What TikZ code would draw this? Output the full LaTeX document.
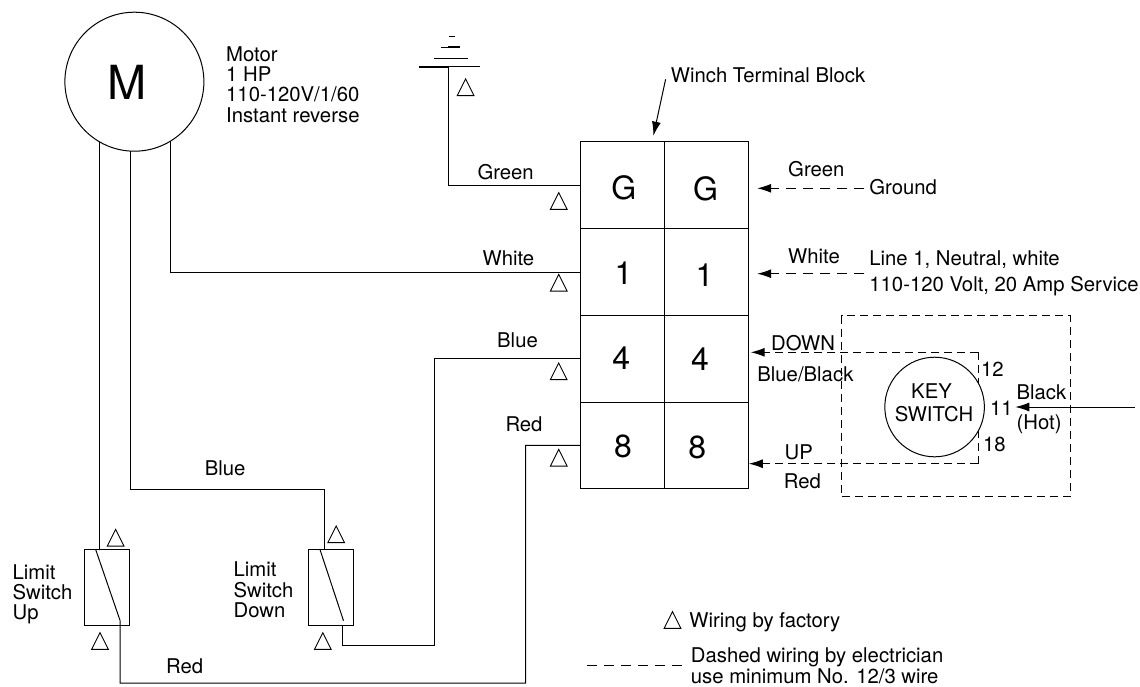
\documentclass[tikz,border=0pt]{standalone}
\usepackage{fontspec}
\setmainfont{TeX Gyre Heros}
\usetikzlibrary{arrows.meta,positioning}
\tikzstyle{wire} = [line width=1pt, line join=miter]
\tikzstyle{elecwire} = [line width=1pt, dash pattern=on 10pt off 7pt]
\tikzstyle{elecbox} = [line width=1pt, dash pattern=on 8pt off 5pt]
\tikzstyle{tip} = [-{Latex[length=14pt,width=9pt]}]
\tikzstyle{cell} = [draw, line width=1pt, rectangle, minimum width=84.2pt, minimum height=86.7pt,
    inner sep=0pt, outer sep=0pt]
\tikzstyle{cellnum} = [inner sep=0pt, font=\fontsize{32}{32}\selectfont]
\tikzstyle{limitsw} = [draw, line width=1pt, rectangle, minimum width=45pt, minimum height=76.4pt,
    inner sep=0pt, outer sep=0pt]
\tikzstyle{lbl} = [anchor=base west, inner sep=0pt, font=\fontsize{20.3}{20.3}\selectfont, align=left]
\tikzset{factri/.pic={\draw[line width=0.9pt] (-8.35,8.35) -- (0,-8.35) -- (8.35,8.35) -- cycle;}}

\begin{document}
\begin{tikzpicture}[x=1pt,y=-1pt]
\useasboundingbox (0,0) rectangle (1140,686);

\node [draw, circle, line width=1pt, minimum size=139pt, inner sep=0pt, outer sep=0pt] (motor) at (134.4,81.7) {};
\node [inner sep=0pt, font=\fontsize{47}{47}\selectfont] (motorM) at (127,82) {M};
\node [lbl] (motorA) at (226,61) {Motor};
\node [lbl] (motorB) at (226,81.7) {1 HP};
\node [lbl] (motorC) at (226,101.7) {110-120V/1/60};
\node [lbl] (motorD) at (226,122) {Instant reverse};

\node [cell] (cellGl) at (622.3,185.3) {};
\node [cell,right=0pt of cellGl] (cellGr) {};
\node [cell,below=0pt of cellGl] (cellAl) {};
\node [cell,right=0pt of cellAl] (cellAr) {};
\node [cell,below=0pt of cellAl] (cellDl) {};
\node [cell,right=0pt of cellDl] (cellDr) {};
\node [cell,below=0pt of cellDl] (cellUl) {};
\node [cell,right=0pt of cellUl] (cellUr) {};

\node [cellnum] (numGl) at (623.8,188) {G};
\node [cellnum] (numGr) at (705.6,189) {G};
\node [cellnum] (numAl) at (623.4,272.7) {1};
\node [cellnum] (numAr) at (704.5,275) {1};
\node [cellnum] (numDl) at (621.3,358) {4};
\node [cellnum] (numDr) at (700,359) {4};
\node [cellnum] (numUl) at (623,446.7) {8};
\node [cellnum] (numUr) at (697.2,447.7) {8};

\node [limitsw] (swUp) at (106.7,587.5) {};
\node [limitsw] (swDown) at (330.8,587.5) {};
\draw [wire] (95.6,549.3) coordinate (upA) -- (120,620.3) coordinate (upB);
\draw [wire] (319.9,549.3) coordinate (downA) -- (343.5,620.7) coordinate (downB);
\node [lbl] (upTextA) at (12.4,579.7) {Limit};
\node [lbl] (upTextB) at (12.4,599.7) {Switch};
\node [lbl] (upTextC) at (12.4,619.7) {Up};
\node [lbl] (downTextA) at (233.4,576.3) {Limit};
\node [lbl] (downTextB) at (233.4,597) {Switch};
\node [lbl] (downTextC) at (233.4,617) {Down};

\coordinate (gndTop) at (448.6,66.7);
\draw [line width=2pt] (419,66.7) -- (gndTop);
\draw [wire] (gndTop) -- (479.8,66.7);
\draw [wire] (434,58) -- (467.5,58);
\draw [wire] (440.6,47) -- (460.2,47);
\draw [line width=2pt] (448,47) -- (460.2,47);
\draw [wire] (448.6,36.7) -- (455,36.7);

\draw [wire] (gndTop) |- (cellGl.west);
\draw [wire] (motor.301) |- (cellAl.west);
\draw [wire] (motor.240.4) -- (motor.240.4 |- swUp.north);
\draw [wire] (motor.267.4) |- (324.6,489) coordinate (blueBend) -- (blueBend |- swDown.north);
\draw [wire] ([xshift=11.2pt]swDown.south) |- (434.8,645.7) |- (cellDl.west);
\draw [wire] (upB) -- (120,683) -| (525.6,445.3) -- (cellUl.west);

\node [lbl] (greenL) at (477.3,179) {Green};
\node [lbl] (whiteL) at (482.4,265.7) {White};
\node [lbl] (blueL) at (497,347) {Blue};
\node [lbl] (redL) at (505.3,431) {Red};
\node [lbl] (blueLow) at (204.7,475.7) {Blue};
\node [lbl] (redLow) at (166,673.7) {Red};

\pic at (465.6,87.3) {factri};
\pic at (558.7,201) {factri};
\pic at (558.7,282.7) {factri};
\pic at (558.7,371.3) {factri};
\pic at (558.7,457.7) {factri};
\pic at (115.6,537.7) {factri};
\pic at (100,641) {factri};
\pic at (336.2,534.3) {factri};
\pic at (322.8,641) {factri};

\node [lbl] (winchL) at (670.7,82) {Winch Terminal Block};
\coordinate (winchA) at (665.6,79.3);
\draw [wire,tip] (winchA) -- ([xshift=-11pt,yshift=6.3pt]cellGr.north west);

\coordinate (groundEnd) at (864.4,188.3);
\coordinate (lineEnd) at (864.4,273.7);
\coordinate (groundTip) at (757.2,188.3);
\coordinate (lineTip) at (757.2,273.7);
\draw [elecwire,tip] (groundEnd) -- (groundTip);
\draw [elecwire,tip] (lineEnd) -- (lineTip);
\node [lbl] (greenR) at (788,176.7) {Green};
\node [lbl] (groundL) at (869.2,194) {Ground};
\node [lbl] (whiteR) at (788,263) {White};
\node [lbl] (lineA) at (869.2,265) {Line 1, Neutral, white};
\node [lbl] (lineB) at (869.2,291) {110-120 Volt, 20 Amp Service};

\node [draw, rectangle, elecbox, minimum width=228.3pt, minimum height=180.7pt, inner sep=0pt] (elecBox) at (956,406.3) {};
\coordinate (downTip) at (750.7,352.3);
\coordinate (upTip) at (748.8,463.7);
\draw [elecbox,tip] (978.2,463.7) coordinate (innerB) -- (upTip);
\draw [elecbox,tip] (978.2,352.3) coordinate (innerA) -- (downTip);
\draw [elecbox] (innerA) -- (innerB);
\node [draw, circle, fill=white, line width=1pt, minimum size=99.6pt, inner sep=0pt] (keySw) at (934.6,407) {};
\node [lbl] (keyA) at (911,398.7) {KEY};
\node [lbl] (keyB) at (894.6,421.7) {SWITCH};
\node [lbl] (termA) at (980.8,376) {12};
\node [lbl] (termB) at (989.9,415) {11};
\node [lbl] (termC) at (983,451) {18};
\node [lbl] (blackA) at (1016.4,399.7) {Black};
\node [lbl] (blackB) at (1016.4,429.5) {(Hot)};
\coordinate (hotEnd) at (1134.9,407);
\coordinate (hotTip) at (1015.3,407);
\draw [wire,tip] (hotEnd) -- (hotTip);
\node [lbl] (downL) at (771,350) {DOWN};
\node [lbl] (blueBlack) at (757.2,381) {Blue/Black};
\node [lbl] (upL) at (784.5,459.3) {UP};
\node [lbl] (redR) at (783.7,488.3) {Red};

\pic at (672.5,620) {factri};
\node [lbl] (legendA) at (689.2,627.3) {Wiring by factory};
\coordinate (legendLineA) at (587,665.7);
\coordinate (legendLineB) at (684.5,665.7);
\draw [elecwire] (legendLineA) -- (legendLineB);
\node [lbl] (legendB) at (690.7,662.7) {Dashed wiring by electrician};
\node [lbl] (legendC) at (690.7,683.3) {use minimum No. 12/3 wire};

\end{tikzpicture}
\end{document}
